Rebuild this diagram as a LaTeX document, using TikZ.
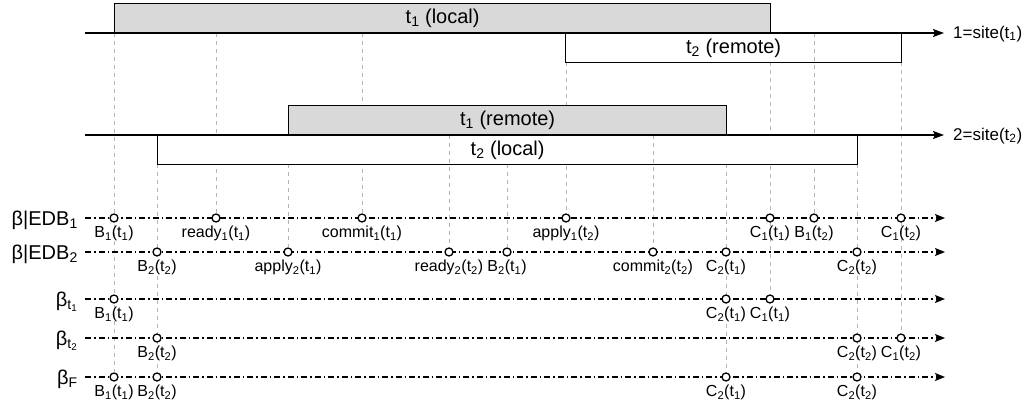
\documentclass[tikz,border=0pt]{standalone}
\usepackage{fontspec}
\setmainfont{Liberation Sans}
\usetikzlibrary{arrows.meta,positioning,backgrounds}
\definecolor{boxgray}{RGB}{217,217,217}
\definecolor{guidegray}{RGB}{180,180,180}
\newcommand\sub[1]{\textsubscript{#1}}
\newcommand\fsize[1]{\fontsize{#1}{#1}\selectfont}
\begin{document}
\begin{tikzpicture}[x=1pt,y=-1pt,
  txn/.style={draw,line width=1.3pt,minimum height=29pt,inner sep=0pt,font=\fsize{20}},
  siteline/.style={line width=1.3pt,-{Stealth[length=11pt,width=8pt,inset=2pt]}},
  runline/.style={line width=1.3pt,dash pattern=on 6pt off 3pt on 1.5pt off 3pt,-{Stealth[length=10pt,width=8pt,inset=2pt]}},
  ev/.style={circle,draw,fill=white,line width=1.3pt,minimum size=8pt,inner sep=0pt},
  evtext/.style={inner sep=0pt,font=\fsize{16}},
  rowlab/.style={anchor=base east,inner sep=0pt,font=\fsize{20}},
  sitelab/.style={anchor=west,inner sep=0pt,font=\fsize{17}},
  guide/.style={guidegray,line width=0.8pt,dash pattern=on 4pt off 4pt}]
\useasboundingbox (0,0) rectangle (1031,410);

\node[txn,fill=boxgray,minimum width=656pt,anchor=south west] (t1local) at (114,33) {t\sub1 (local)};
\node[txn,fill=white,minimum width=336pt,anchor=north west] (t2remote) at (565,33) {t\sub2 (remote)};
\node[txn,fill=boxgray,minimum width=438pt,anchor=south west] (t1remote) at (288,135) {t\sub1 (remote)};
\node[txn,fill=white,minimum width=700pt,anchor=north west] (t2local) at (157,135) {t\sub2 (local)};

\foreach \x/\ya/\yb in {449/135/164, 653/135/164, 814/33/62}
  \draw[guide] (\x,\ya) -- (\x,\yb);

\coordinate (s1from) at (85,33);
\coordinate (s1to) at (944,33);
\coordinate (s2from) at (85,135);
\coordinate (s2to) at (944,135);
\draw[siteline] (s1from) -- (s1to);
\draw[siteline] (s2from) -- (s2to);
\node[sitelab] (site1) at (953,34) {1=site(t\sub1)};
\node[sitelab] (site2) at (953,136) {2=site(t\sub2)};

\foreach \row/\y/\lab in {edb1/218/{β|EDB\sub1}, edb2/252/{β|EDB\sub2}, bt1/299/{β\sub{t\sub1}}, bt2/338/{β\sub{t\sub2}}, bf/377/{β\sub{F}}} {
  \node[rowlab] (\row) at (78,\y+7) {\lab};
  \coordinate (\row-from) at (85,\y);
  \coordinate (\row-to) at (945,\y);
  \draw[runline] (\row-from) -- (\row-to);
}

\foreach \x/\lab in {114/{B\sub1(t\sub1)}, 216/{ready\sub1(t\sub1)}, 362/{commit\sub1(t\sub1)}, 566/{apply\sub1(t\sub2)}, 770/{C\sub1(t\sub1)}, 814/{B\sub1(t\sub2)}, 901/{C\sub1(t\sub2)}} {
  \node[ev] (edb1-\x) at (\x,218) {};
  \node[evtext,below=3pt of edb1-\x] (edb1-\x-txt) {\lab};
}
\foreach \x/\lab in {157/{B\sub2(t\sub2)}, 288/{apply\sub2(t\sub1)}, 449/{ready\sub2(t\sub2)}, 507/{B\sub2(t\sub1)}, 653/{commit\sub2(t\sub2)}, 726/{C\sub2(t\sub1)}, 857/{C\sub2(t\sub2)}} {
  \node[ev] (edb2-\x) at (\x,252) {};
  \node[evtext,below=3pt of edb2-\x] (edb2-\x-txt) {\lab};
}
\foreach \x/\lab in {114/{B\sub1(t\sub1)}, 726/{C\sub2(t\sub1)}, 770/{C\sub1(t\sub1)}} {
  \node[ev] (bt1-\x) at (\x,299) {};
  \node[evtext,below=3pt of bt1-\x] (bt1-\x-txt) {\lab};
}
\foreach \x/\lab in {157/{B\sub2(t\sub2)}, 857/{C\sub2(t\sub2)}, 901/{C\sub1(t\sub2)}} {
  \node[ev] (bt2-\x) at (\x,338) {};
  \node[evtext,below=3pt of bt2-\x] (bt2-\x-txt) {\lab};
}
\foreach \x/\lab in {114/{B\sub1(t\sub1)}, 157/{B\sub2(t\sub2)}, 726/{C\sub2(t\sub1)}, 857/{C\sub2(t\sub2)}} {
  \node[ev] (bf-\x) at (\x,377) {};
  \node[evtext,below=3pt of bf-\x] (bf-\x-txt) {\lab};
}

\begin{pgfonlayer}{background}
\foreach \x/\ys/\row in {114/33/bf, 157/164/bf, 216/33/edb1, 288/164/edb2, 362/33/edb1, 449/135/edb2, 507/164/edb2, 566/62/edb1, 653/135/edb2, 726/164/bf, 770/62/bt1, 814/33/edb1, 857/164/bf, 901/62/bt2}
  \draw[guide] (\x,\ys) -- (\row-\x);
\end{pgfonlayer}
\end{tikzpicture}
\end{document}
